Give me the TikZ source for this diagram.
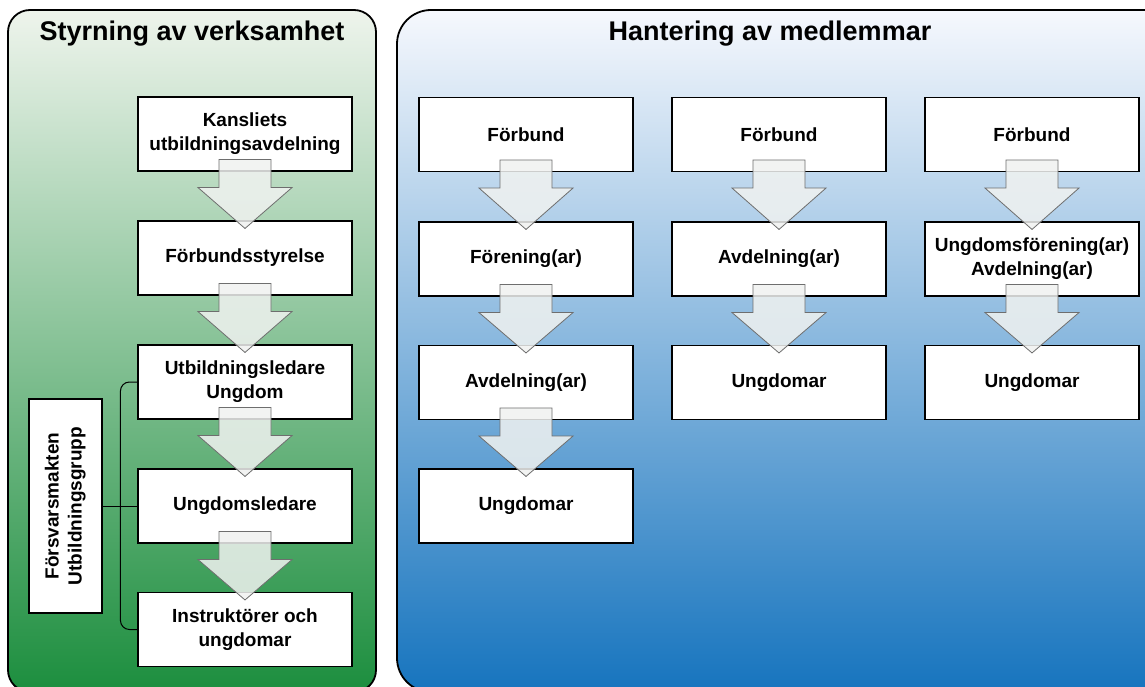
\documentclass[tikz,border=0pt]{standalone}
\usepackage{fontspec}
\setmainfont{Liberation Sans}
\usetikzlibrary{calc}
\definecolor{gtop}{RGB}{238,244,236}
\definecolor{gmid}{RGB}{145,196,145}
\definecolor{gbot}{RGB}{28,142,62}
\definecolor{btop}{RGB}{246,248,253}
\definecolor{bmid}{RGB}{135,160,212}
\definecolor{bbot}{RGB}{22,116,190}
\definecolor{arrfill}{RGB}{240,242,240}
\definecolor{arrdraw}{RGB}{110,110,110}
\tikzset{
  boxnode/.style={draw=black, fill=white, line width=1.1pt, minimum width=214pt, minimum height=74pt,
    align=center, inner sep=2pt, font=\bfseries\fontsize{19}{24}\selectfont},
  titlenode/.style={font=\bfseries\fontsize{27}{30}\selectfont},
  blockarrow/.style={draw=arrdraw, fill=arrfill, fill opacity=0.85, line width=0.8pt, line join=miter},
  panelborder/.style={draw=black, line width=1.8pt},
  linkline/.style={draw=black, line width=1pt}
}
\newcommand\blkarrow[2]{%
  \draw[blockarrow] ($(#1.south)+(-26,-12)$) -- ($(#1.south)+(26,-12)$) -- ($(#1.south)+(26,16)$)
    -- ($(#1.south)+(47,16)$) -- ($(#2.north)+(0,8)$) -- ($(#1.south)+(-47,16)$)
    -- ($(#1.south)+(-26,16)$) -- cycle;}
\begin{document}
\begin{tikzpicture}[x=1pt,y=-1pt]
\useasboundingbox (0,0) rectangle (1145,687);
\clip (0,0) rectangle (1145,687);
% left panel
\shade[top color=gtop, middle color=gmid, bottom color=gbot, rounded corners=22pt]
  (8,10) rectangle (376,692);
\draw[panelborder, rounded corners=22pt] (8,10) rectangle (376,692);
% right panel
\shade[top color=btop, middle color=bmid, bottom color=bbot, rounded corners=34pt]
  (397,10) rectangle (1178,692);
\draw[panelborder, rounded corners=34pt] (397,10) rectangle (1178,692);

\node[titlenode] (tl) at (192,34) {Styrning av verksamhet};
\node[titlenode] (tr) at (770,34) {Hantering av medlemmar};

% left column
\node[boxnode] (ka) at (245,134) {Kansliets\\utbildningsavdelning};
\node[boxnode] (fs) at (245,258) {Förbundsstyrelse};
\node[boxnode] (ul) at (245,382) {Utbildningsledare\\Ungdom};
\node[boxnode] (ug) at (245,506) {Ungdomsledare};
\node[boxnode] (in) at (245,629.5) {Instruktörer och\\ungdomar};
\node[draw=black, fill=white, line width=1.1pt, minimum width=73pt, minimum height=214pt, inner sep=0pt,
  font=\bfseries\fontsize{19}{23}\selectfont] (fm) at (65.5,506)
  {\rotatebox{90}{\begin{tabular}{@{}c@{}}Försvarsmakten\\Utbildningsgrupp\end{tabular}}};
\draw[linkline, rounded corners=9pt] (ul.west) -- ++(-17,0) |- (in.west);
\draw[linkline] (fm.east) -- (ug.west);
\blkarrow{ka}{fs}
\blkarrow{fs}{ul}
\blkarrow{ul}{ug}
\blkarrow{ug}{in}

% right columns
\node[boxnode] (a1) at (526,134.5) {Förbund};
\node[boxnode] (a2) at (526,259) {Förening(ar)};
\node[boxnode] (a3) at (526,382.5) {Avdelning(ar)};
\node[boxnode] (a4) at (526,506) {Ungdomar};
\node[boxnode] (b1) at (779,134.5) {Förbund};
\node[boxnode] (b2) at (779,259) {Avdelning(ar)};
\node[boxnode] (b3) at (779,382.5) {Ungdomar};
\node[boxnode] (c1) at (1032,134.5) {Förbund};
\node[boxnode] (c2) at (1032,259) {Ungdomsförening(ar)\\Avdelning(ar)};
\node[boxnode] (c3) at (1032,382.5) {Ungdomar};
\blkarrow{a1}{a2}
\blkarrow{a2}{a3}
\blkarrow{a3}{a4}
\blkarrow{b1}{b2}
\blkarrow{b2}{b3}
\blkarrow{c1}{c2}
\blkarrow{c2}{c3}
\end{tikzpicture}
\end{document}
